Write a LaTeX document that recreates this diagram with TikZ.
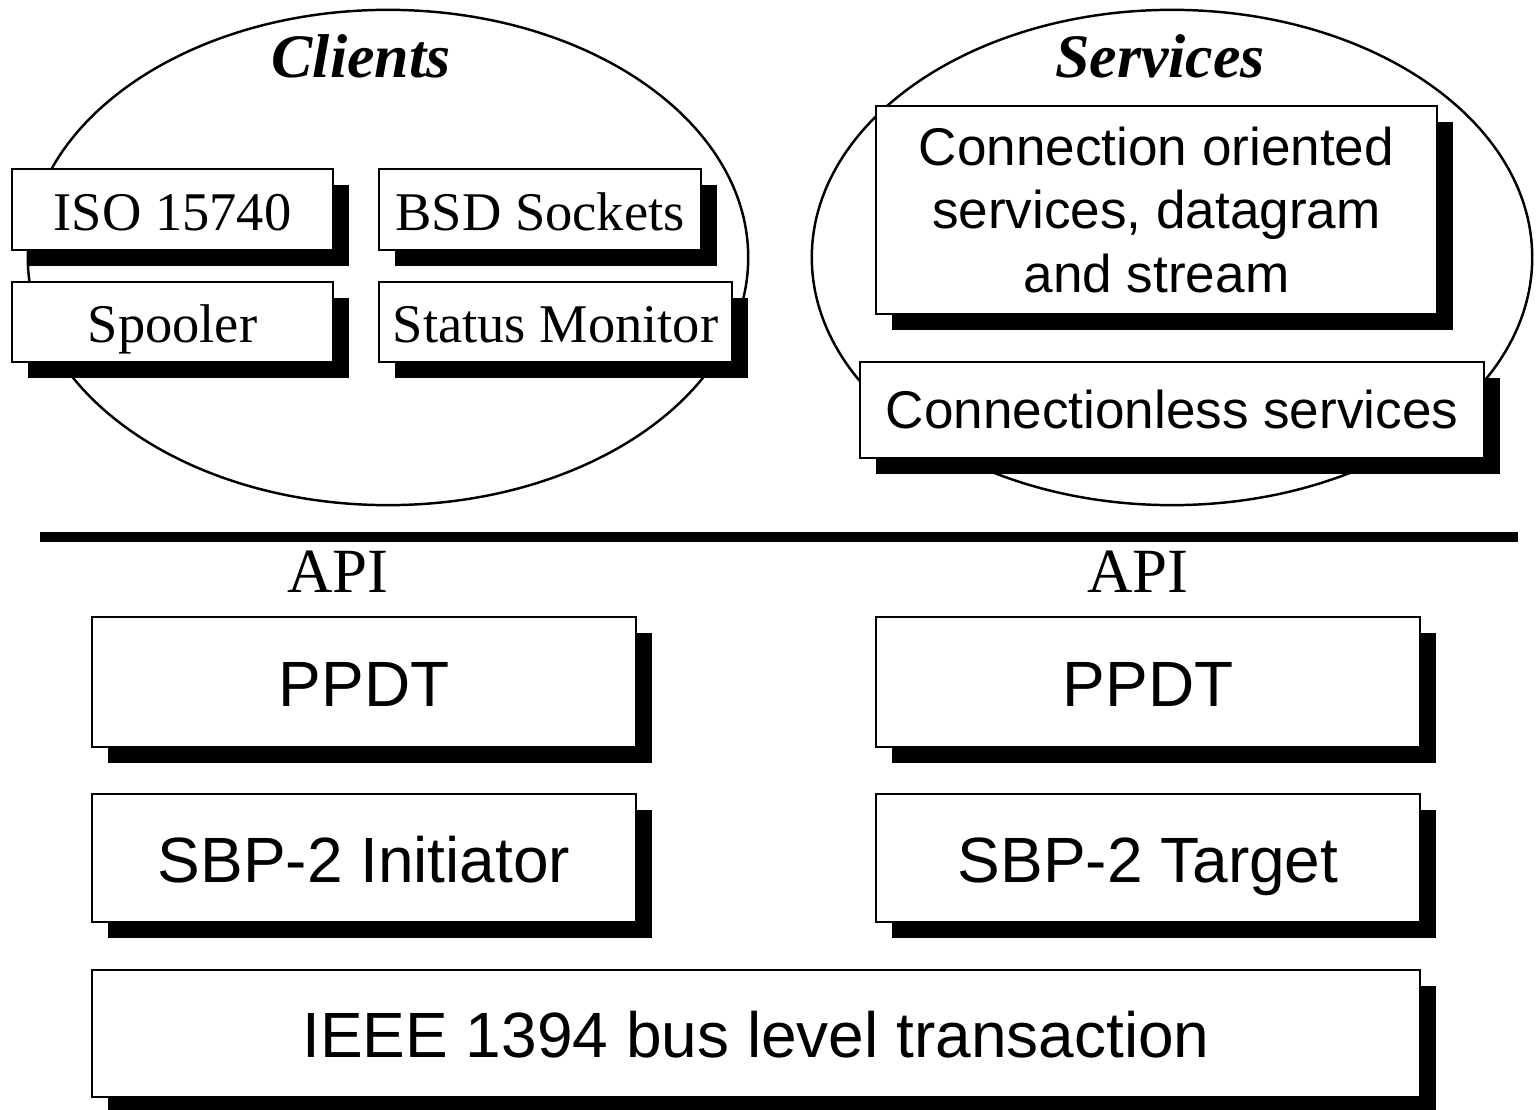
\documentclass[tikz,border=0pt]{standalone}
\usepackage{fontspec}
\setmainfont{Liberation Serif}
\newfontfamily\arialfont{Liberation Sans}
\usetikzlibrary{shadows}
\tikzset{
  sbox/.style={draw, line width=0.6pt, fill=white, inner sep=0pt, align=center,
    drop shadow={shadow xshift=0.16cm, shadow yshift=-0.16cm, fill=black, opacity=1}},
  serifsmall/.style={font=\fontsize{15.5pt}{18pt}\selectfont, text height=11.8pt, text depth=0pt},
  sansbig/.style={font=\arialfont\fontsize{18.2pt}{22pt}\selectfont, text height=13.8pt, text depth=0pt},
  sansone/.style={font=\arialfont\fontsize{15.1pt}{18.1pt}\selectfont, text height=10.5pt, text depth=0pt},
  sansmid/.style={font=\arialfont\fontsize{15.1pt}{18.1pt}\selectfont},
  title/.style={font=\fontsize{17.6pt}{20pt}\selectfont\bfseries\itshape, anchor=base, inner sep=0pt},
  apilabel/.style={font=\fontsize{17.9pt}{20pt}\selectfont, anchor=base, inner sep=0pt},
  oval/.style={line width=0.7pt},
}
\begin{document}
\begin{tikzpicture}[x=0.01cm, y=-0.01cm]
\useasboundingbox (0,0) rectangle (1537,1110);
% ellipses
\draw[oval] (388,257.5) ellipse [x radius=3.6cm, y radius=2.475cm];
\draw[oval] (1172,257.5) ellipse [x radius=3.6cm, y radius=2.475cm];
\node[title] (clients) at (361,78) {Clients};
\node[title] (services) at (1160,78) {Services};
% client boxes
\node[sbox, serifsmall, minimum width=3.21cm, minimum height=0.81cm] (iso) at (172.5,209.5) {ISO 15740};
\node[sbox, serifsmall, minimum width=3.22cm, minimum height=0.81cm] (bsd) at (540,209.5) {BSD Sockets};
\node[sbox, serifsmall, minimum width=3.21cm, minimum height=0.80cm] (spool) at (172.5,322) {Spooler};
\node[sbox, serifsmall, minimum width=3.53cm, minimum height=0.80cm] (status) at (555.5,322) {Status Monitor};
% service boxes
\node[sbox, sansmid, minimum width=5.61cm, minimum height=2.08cm] (conn) at (1156.5,210) {Connection oriented\\services, datagram\\and stream};
\node[sbox, sansone, minimum width=6.24cm, minimum height=0.96cm] (connless) at (1172,410) {Connectionless services};
% separator
\coordinate (sepL) at (40,537);
\coordinate (sepR) at (1518,537);
\draw[line width=0.09cm] (sepL) -- (sepR);
\node[apilabel] (api1) at (338,593) {API};
\node[apilabel] (api2) at (1138,593) {API};
% stack
\node[sbox, sansbig, minimum width=5.44cm, minimum height=1.30cm] (ppdt1) at (364,682) {PPDT};
\node[sbox, sansbig, minimum width=5.44cm, minimum height=1.30cm] (ppdt2) at (1148,682) {PPDT};
\node[sbox, sansbig, minimum width=5.44cm, minimum height=1.28cm] (sbp1) at (364,858) {SBP-2 Initiator};
\node[sbox, sansbig, minimum width=5.44cm, minimum height=1.28cm] (sbp2) at (1148,858) {SBP-2 Target};
\node[sbox, sansbig, minimum width=13.28cm, minimum height=1.27cm] (ieee) at (756,1033.5) {IEEE 1394 bus level transaction};
\end{tikzpicture}
\end{document}
